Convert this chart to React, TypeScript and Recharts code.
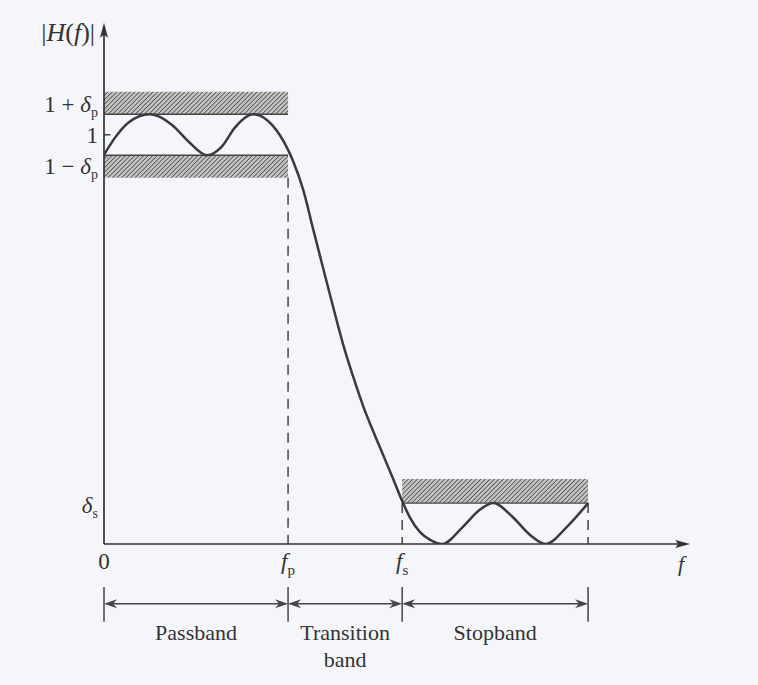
import React from 'react';
import {
  ComposedChart,
  Line,
  XAxis,
  YAxis,
  ReferenceLine,
  ReferenceArea,
  ReferenceDot,
} from 'recharts';

// frequency in units of fp, magnitude |H(f)|
const freq = [
  0, 0.06, 0.13, 0.25, 0.37, 0.46, 0.56, 0.64, 0.71, 0.81, 0.913, 1.0, 1.027, 1.082, 1.136, 1.19,
  1.245, 1.299, 1.353, 1.408, 1.462, 1.516, 1.571, 1.62, 1.663, 1.717, 1.772, 1.837, 1.95, 2.04,
  2.115, 2.22, 2.315, 2.4, 2.515, 2.63,
];
const magnitude = [
  0.951, 0.993, 1.029, 1.05, 1.024, 0.983, 0.95, 0.971, 1.017, 1.05, 1.024, 0.963, 0.936, 0.866,
  0.77, 0.675, 0.579, 0.488, 0.41, 0.337, 0.276, 0.218, 0.159, 0.105, 0.064, 0.029, 0.01, 0,
  0.042, 0.083, 0.1, 0.066, 0.022, 0, 0.042, 0.1,
];

const fp = 1;
const fs = 1.62;
const fEnd = 2.63;
const deltaP = 0.05;
const deltaS = 0.1;
const hatch = 0.055;

const xTickValues = [0, fp, fs];
const xTickNames = [
  { main: '0', sub: '' },
  { main: 'f', sub: 'p' },
  { main: 'f', sub: 's' },
];
const yTickValues = [1 + deltaP, 1, 1 - deltaP, deltaS];
const yTickNames = [
  { pre: '1 + ', sym: 'δ', sub: 'p' },
  { pre: '1', sym: '', sub: '' },
  { pre: '1 − ', sym: 'δ', sub: 'p' },
  { pre: '', sym: 'δ', sub: 's' },
];
const bandNames = [['Passband'], ['Transition', 'band'], ['Stopband']];
const bandEdges = [0, fp, fs, fEnd];

const data = freq.map((f, i) => ({ f, mag: magnitude[i] }));

const FONT = '"Liberation Serif", "Times New Roman", serif';
const INK = '#333';

// vertical nudges so the labels sit beside their bands like in the book
const yNudge = [-2, 8, 19, 10];

function YTick(props: any) {
  const { x, y, payload } = props;
  const i = yTickValues.findIndex((v) => Math.abs(v - payload.value) < 1e-9);
  if (i < 0) return null;
  const t = yTickNames[i];
  return (
    <text x={x + 2} y={y + yNudge[i]} textAnchor="end" fontFamily={FONT} fontSize={23} fill={INK}>
      <tspan>{t.pre}</tspan>
      {t.sym && <tspan fontStyle="italic">{t.sym}</tspan>}
      {t.sub && (
        <tspan fontSize={14} dy={5}>
          {t.sub}
        </tspan>
      )}
    </text>
  );
}

function XTick(props: any) {
  const { x, y, payload } = props;
  const i = xTickValues.findIndex((v) => Math.abs(v - payload.value) < 1e-9);
  if (i < 0) return null;
  const t = xTickNames[i];
  return (
    <text x={x} y={y + 17} textAnchor="middle" fontFamily={FONT} fontSize={23} fill={INK}>
      <tspan fontStyle={t.sub ? 'italic' : 'normal'}>{t.main}</tspan>
      {t.sub && (
        <tspan fontSize={15} dy={6}>
          {t.sub}
        </tspan>
      )}
    </text>
  );
}

function arrowHead(tx: number, ty: number, ang: number, len: number, wid: number, notch: number) {
  const c = Math.cos(ang);
  const s = Math.sin(ang);
  const bx = tx - len * c;
  const by = ty - len * s;
  const nx = tx - (len - notch) * c;
  const ny = ty - (len - notch) * s;
  return `${tx},${ty} ${bx - wid * s},${by + wid * c} ${nx},${ny} ${bx + wid * s},${by - wid * c}`;
}

function AxisArrow(props: any) {
  const { x1, y1, x2, y2 } = props;
  const ang = Math.atan2(y2 - y1, x2 - x1);
  return (
    <g>
      <line x1={x1} y1={y1} x2={x2 - 8 * Math.cos(ang)} y2={y2 - 8 * Math.sin(ang)} stroke={INK} strokeWidth={1.7} />
      <polygon points={arrowHead(x2, y2, ang, 15, 4, 3)} fill={INK} />
    </g>
  );
}

function SpanArrow(props: any) {
  const { x1, y1, x2, y2 } = props;
  const ang = Math.atan2(y2 - y1, x2 - x1);
  return (
    <g>
      <line x1={x1 + 4} y1={y1} x2={x2 - 4} y2={y2} stroke="#444" strokeWidth={1.4} />
      <polygon points={arrowHead(x2, y2, ang, 13, 4.5, 4)} fill="#444" />
      <polygon points={arrowHead(x1, y1, ang + Math.PI, 13, 4.5, 4)} fill="#444" />
    </g>
  );
}

function textShape(lines: string[], italic = false, anchor = 'middle', dy = 0) {
  return (p: any) => (
    <text x={p.cx} y={p.cy + dy} textAnchor={anchor} fontFamily={FONT} fontSize={22} fill={INK} fontStyle={italic ? 'italic' : 'normal'}>
      {lines.map((l, i) => (
        <tspan key={i} x={p.cx} dy={i === 0 ? 0 : 27}>
          {l}
        </tspan>
      ))}
    </text>
  );
}

function HLabel(p: any) {
  return (
    <text x={p.cx - 9} y={p.cy + 18} textAnchor="end" fontFamily={FONT} fontSize={26} fill={INK}>
      <tspan>|</tspan>
      <tspan fontStyle="italic">H</tspan>
      <tspan>(</tspan>
      <tspan fontStyle="italic">f</tspan>
      <tspan>)|</tspan>
    </text>
  );
}

export default function App() {
  const yTop = 1.274;
  const xTip = 3.185;
  const tickTop = -0.105;
  const tickBot = -0.19;
  const spanY = -0.146;
  const bandY = -0.235;

  return (
    <div style={{ position: 'absolute', left: 0, top: 0, width: 758, height: 685, background: '#f4f6fb' }}>
      <svg width={0} height={0} style={{ position: 'absolute' }}>
        <defs>
          <pattern id="hatch" width={3.2} height={3.2} patternUnits="userSpaceOnUse" patternTransform="rotate(45)">
            <rect width={3.2} height={3.2} fill="#c4c4c4" />
            <line x1={0} y1={0} x2={0} y2={3.2} stroke="#444" strokeWidth={1.5} />
          </pattern>
        </defs>
      </svg>
      <ComposedChart width={758} height={685} data={data} margin={{ top: 12, right: 65, bottom: 6, left: 44 }}>
        <XAxis
          dataKey="f"
          type="number"
          domain={[0, 3.2]}
          ticks={xTickValues}
          interval={0}
          tick={<XTick />}
          axisLine={false}
          tickLine={false}
          height={135}
          allowDataOverflow
        />
        <YAxis
          type="number"
          domain={[0, 1.3]}
          ticks={yTickValues}
          interval={0}
          tick={<YTick />}
          axisLine={false}
          tickLine={false}
          width={60}
          allowDataOverflow
        />

        {/* tolerance bands */}
        <ReferenceArea x1={0} x2={fp} y1={1 + deltaP} y2={1 + deltaP + hatch} fill="url(#hatch)" fillOpacity={1} stroke="none" ifOverflow="visible" />
        <ReferenceArea x1={0} x2={fp} y1={1 - deltaP - hatch} y2={1 - deltaP} fill="url(#hatch)" fillOpacity={1} stroke="none" ifOverflow="visible" />
        <ReferenceArea x1={fs} x2={fEnd} y1={deltaS} y2={deltaS + hatch + 0.004} fill="url(#hatch)" fillOpacity={1} stroke="none" ifOverflow="visible" />
        <ReferenceLine segment={[{ x: 0, y: 1 + deltaP }, { x: fp, y: 1 + deltaP }]} stroke="#444" strokeWidth={1.4} ifOverflow="visible" />
        <ReferenceLine segment={[{ x: 0, y: 1 - deltaP }, { x: fp, y: 1 - deltaP }]} stroke="#444" strokeWidth={1.4} ifOverflow="visible" />
        <ReferenceLine segment={[{ x: fs, y: deltaS }, { x: fEnd, y: deltaS }]} stroke="#444" strokeWidth={1.4} ifOverflow="visible" />

        {/* band edges */}
        <ReferenceLine segment={[{ x: fp, y: 1 - deltaP - hatch }, { x: fp, y: 0 }]} stroke="#444" strokeWidth={1.5} strokeDasharray="10 7" ifOverflow="visible" />
        <ReferenceLine segment={[{ x: fs, y: deltaS }, { x: fs, y: 0 }]} stroke="#444" strokeWidth={1.5} strokeDasharray="10 7" ifOverflow="visible" />
        <ReferenceLine segment={[{ x: fEnd, y: deltaS }, { x: fEnd, y: 0 }]} stroke="#444" strokeWidth={1.5} strokeDasharray="10 7" ifOverflow="visible" />
        {bandEdges.map((e) => (
          <ReferenceLine key={`t${e}`} segment={[{ x: e, y: tickTop }, { x: e, y: tickBot }]} stroke="#444" strokeWidth={1.5} ifOverflow="visible" />
        ))}
        {bandNames.map((names, i) => (
          <ReferenceLine
            key={`s${i}`}
            segment={[{ x: bandEdges[i], y: spanY }, { x: bandEdges[i + 1], y: spanY }]}
            shape={<SpanArrow />}
            ifOverflow="visible"
          />
        ))}
        {bandNames.map((names, i) => (
          <ReferenceDot
            key={`b${i}`}
            x={(bandEdges[i] + bandEdges[i + 1]) / 2}
            y={bandY}
            r={0}
            shape={textShape(names)}
            ifOverflow="visible"
          />
        ))}

        {/* axes */}
        <ReferenceLine segment={[{ x: 0, y: 0 }, { x: 0, y: yTop }]} shape={<AxisArrow />} ifOverflow="visible" />
        <ReferenceLine segment={[{ x: 0, y: 0 }, { x: xTip, y: 0 }]} shape={<AxisArrow />} ifOverflow="visible" />
        <ReferenceLine segment={[{ x: 0, y: 1 }, { x: 0.035, y: 1 }]} stroke={INK} strokeWidth={1.4} ifOverflow="visible" />
        <ReferenceDot x={0} y={yTop} r={0} shape={<HLabel />} ifOverflow="visible" />
        <ReferenceDot x={3.135} y={0} r={0} shape={textShape(['f'], true, 'middle', 27)} ifOverflow="visible" />

        <Line
          dataKey="mag"
          type="monotone"
          stroke="#3a3a3a"
          strokeWidth={2.5}
          dot={false}
          isAnimationActive={false}
        />
      </ComposedChart>
    </div>
  );
}
